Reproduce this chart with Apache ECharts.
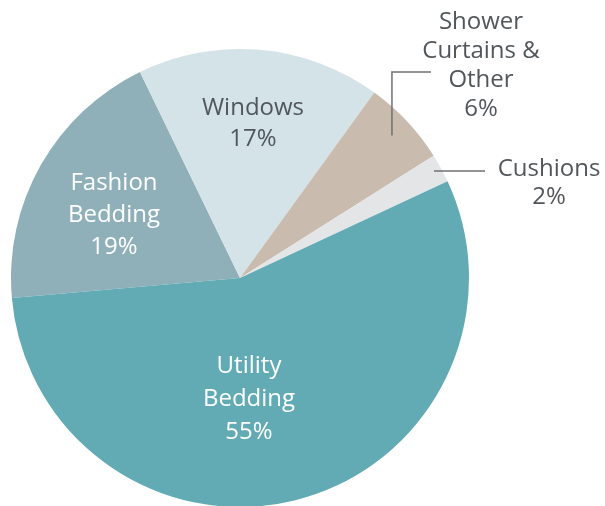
<!DOCTYPE html>
<html>
<head>
<meta charset="utf-8">
<script src="https://cdn.jsdelivr.net/npm/echarts@6/dist/echarts.min.js"></script>
<style>html,body{margin:0;padding:0;background:#fff;}#c{width:605px;height:506px;}</style>
</head>
<body>
<div id="c"></div>
<script>
// Data (clockwise from the left edge)
const categories = ['Fashion Bedding', 'Windows', 'Shower Curtains & Other', 'Cushions', 'Utility Bedding'];
const labelTexts = ['Fashion\nBedding', 'Windows', 'Shower\nCurtains &\nOther', 'Cushions', 'Utility\nBedding'];
const values = [19, 17, 6, 2, 55];
const colors = ['#8fb0b9', '#d4e3e8', '#c9bcaf', '#e3e5e7', '#62abb5'];
const labelColors = ['#ffffff', '#50565a', '#50565a', '#50565a', '#ffffff'];

// label placement (layout only)
const labelPos = [[114, 215], [253, 124], [481, 66], [549, 183], [249, 399]];
const lineHeights = [32, 31, 29, 28, 33];

const CX = 240, CY = 278, R = 229, START = 185;
const total = values.reduce((a, b) => a + b, 0);
function midAngle(i) {
  let acc = 0;
  for (let k = 0; k < i; k++) acc += values[k];
  const a = START - (acc + values[i] / 2) / total * 360;
  return a * Math.PI / 180;
}
function pt(i, rf) {
  const a = midAngle(i);
  return [CX + R * rf * Math.cos(a), CY - R * rf * Math.sin(a)];
}
// leader lines for the two small outside slices
const s0 = pt(2, 0.91);
const c0 = pt(3, 0.965);
const leaders = [
  [[s0[0], s0[1]], [s0[0], 72], [431, 72]],
  [[c0[0], 171], [485, 171]]
];

const chart = echarts.init(document.getElementById('c'), null, {renderer: 'canvas'});
chart.setOption({
  animation: false,
  graphic: leaders.map(p => ({
    type: 'polyline',
    z: 100,
    shape: {points: p},
    style: {stroke: '#707070', lineWidth: 1.5, fill: null}
  })),
  series: [{
    type: 'pie',
    center: [CX, CY],
    radius: R,
    startAngle: START,
    clockwise: true,
    avoidLabelOverlap: false,
    data: categories.map((n, i) => ({
      name: n,
      value: values[i],
      itemStyle: {color: colors[i]},
      label: {color: labelColors[i], lineHeight: lineHeights[i]}
    })),
    itemStyle: {borderWidth: 0},
    label: {
      show: true,
      position: 'outside',
      fontFamily: '"Open Sans", sans-serif',
      fontSize: 24,
      align: 'center',
      formatter: p => labelTexts[p.dataIndex] + '\n' + p.value + '%'
    },
    labelLine: {show: false},
    labelLayout: function (params) {
      const i = params.dataIndex;
      return {x: labelPos[i][0], y: labelPos[i][1], align: 'center', verticalAlign: 'middle'};
    }
  }]
});
</script>
</body>
</html>
